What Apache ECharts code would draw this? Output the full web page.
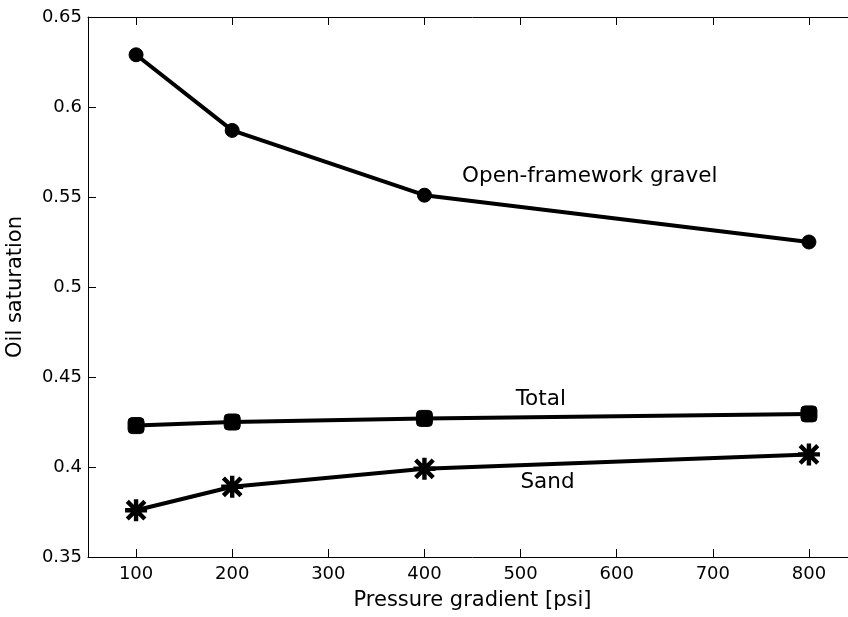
<!DOCTYPE html>
<html><head><meta charset="utf-8">
<script src="https://cdn.jsdelivr.net/npm/echarts@6/dist/echarts.min.js"></script>
<style>html,body{margin:0;padding:0;background:#fff;overflow:hidden}#c{width:900px;height:617px}</style>
</head><body><div id="c"></div>
<script>
const pressure = [100, 200, 400, 800];
const gravel = [0.629, 0.587, 0.551, 0.525];
const total = [0.423, 0.425, 0.427, 0.4295];
const sand = [0.376, 0.389, 0.399, 0.407];
const xTicks = [100, 200, 300, 400, 500, 600, 700, 800];
const yTicks = [0.35, 0.4, 0.45, 0.5, 0.55, 0.6, 0.65];
const labels = [
  {text: 'Open-framework gravel', x: 572, y: 0.5615},
  {text: 'Total', x: 521, y: 0.4375},
  {text: 'Sand', x: 528, y: 0.3915}
];

const star = 'path://M0 8H20V12H0Z M8 0H12V20H8Z M3.41 0.59L19.41 16.59L16.59 19.41L0.59 3.41Z M16.59 0.59L19.41 3.41L3.41 19.41L0.59 16.59Z';
const font = 'DejaVu Sans, sans-serif';

const chart = echarts.init(document.getElementById('c'), null, {renderer: 'canvas', width: 900, height: 617});
const pair = (ys) => pressure.map((x, i) => [x, ys[i]]);
const axisLine = {show: true, onZero: false, lineStyle: {color: '#000', width: 1}};
const tick = (vals) => ({show: true, inside: true, length: 8, lineStyle: {color: '#000'}, customValues: vals});
const lineSeries = (name, ys, symbol, size) => ({
  name, type: 'line', data: pair(ys), symbol, symbolSize: size,
  lineStyle: {color: '#000', width: 4},
  itemStyle: {color: '#000', borderColor: '#000', borderWidth: 1},
  z: 3
});
chart.setOption({
  animation: false,
  backgroundColor: '#fff',
  grid: {left: 88, top: 17, width: 769, height: 540, containLabel: false, outerBoundsMode: 'none',
    show: true, borderWidth: 0, borderColor: 'rgba(0,0,0,0)', backgroundColor: 'rgba(0,0,0,0)'},
  xAxis: [
    {
      type: 'value', min: 50, max: 850, position: 'bottom',
      name: 'Pressure gradient [psi]', nameLocation: 'middle', nameGap: 33,
      nameTextStyle: {fontFamily: font, fontSize: 21, color: '#000', verticalAlign: 'top'},
      axisLine, axisTick: tick(xTicks), splitLine: {show: false},
      axisLabel: {fontFamily: font, fontSize: 18, color: '#000', margin: 8, customValues: xTicks}
    },
    {
      type: 'value', min: 50, max: 850, position: 'top',
      axisLine, axisTick: tick(xTicks), splitLine: {show: false},
      axisLabel: {show: false}
    }
  ],
  yAxis: [
    {
      type: 'value', min: 0.35, max: 0.65, interval: 0.05,
      name: 'Oil saturation', nameLocation: 'middle', nameGap: 62, nameRotate: 90,
      nameTextStyle: {fontFamily: font, fontSize: 21, color: '#000'},
      axisLine, axisTick: tick(yTicks), splitLine: {show: false},
      axisLabel: {fontFamily: font, fontSize: 18, color: '#000', margin: 6, customValues: yTicks,
        formatter: v => String(+v.toFixed(2))}
    }
  ],
  series: [
    Object.assign(lineSeries('Open-framework gravel', gravel, 'circle', 14), {
      markPoint: {
        symbol: 'circle', symbolSize: 0, silent: true,
        label: {show: true, position: 'inside', color: '#000', fontFamily: font, fontSize: 21.5,
          formatter: p => p.name},
        data: labels.map(l => ({name: l.text, coord: [l.x, l.y]}))
      }
    }),
    lineSeries('Total', total, 'roundRect', 16),
    Object.assign(lineSeries('Sand', sand, star, 22), {itemStyle: {color: '#000', borderWidth: 0}})
  ]
});
</script></body></html>
